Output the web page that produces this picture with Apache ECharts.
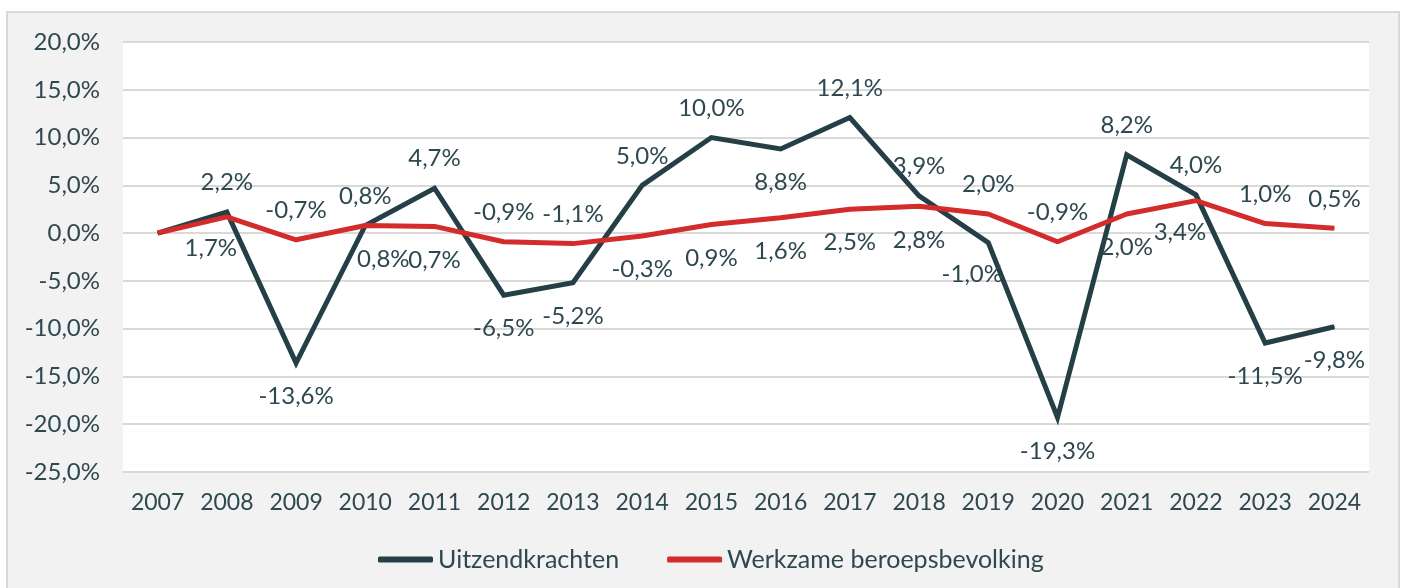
<!DOCTYPE html>
<html>
<head>
<meta charset="utf-8">
<title>Uitzendkrachten vs werkzame beroepsbevolking</title>
<script src="https://cdn.jsdelivr.net/npm/echarts@6/dist/echarts.min.js"></script>
<style>
  html, body { margin: 0; padding: 0; background: #fff; }
  #chart { width: 1402px; height: 588px; }
</style>
</head>
<body>
<div id="chart"></div>
<script>
// jaren en procentuele mutaties
var years = ['2007', '2008', '2009', '2010', '2011', '2012', '2013', '2014', '2015',
  '2016', '2017', '2018', '2019', '2020', '2021', '2022', '2023', '2024']
var uitzendkrachten = [0, 2.2, -13.6, 0.8, 4.7, -6.5, -5.2, 5.0, 10.0, 8.8, 12.1, 3.9, -1.0, -19.3, 8.2, 4.0, -11.5, -9.8]
var werkzame = [0, 1.7, -0.7, 0.8, 0.7, -0.9, -1.1, -0.3, 0.9, 1.6, 2.5, 2.8, 2.0, -0.9, 2.0, 3.4, 1.0, 0.5]
var yTicks = [-25, -20, -15, -10, -5, 0, 5, 10, 15, 20]

// waar het label staat (t = boven, b = onder, bl / br = onder en opzij), '' = geen label
var uitzendLabelPos = ['', 't', 'b', 't', 't', 'b', 'b', 't', 't', 'b', 't', 't', 'bl', 'b', 't', 't', 'b', 'b']
var werkzameLabelPos = ['', 'bl', 't', 'br', 'b', 't', 't', 'b', 'b', 'b', 'b', 'b', 't', 't', 'b', 'bl', 't', 't']

var textColor = '#2e4850'
var fontFamily = 'Lato, "Open Sans", sans-serif'

function fmt (v) {
  return v.toFixed(1).replace('.', ',') + '%'
}

function buildData (values, positions) {
  return values.map(function (v, i) {
    var p = positions[i]
    if (!p) return { value: v, label: { show: false } }
    var top = p.charAt(0) === 't'
    var label = { show: true, position: top ? 'top' : 'bottom', distance: top ? 17 : 21 }
    if (p === 'br') label.offset = [18, 0]
    if (p === 'bl') label.offset = [-16, -2]
    return { value: v, label: label }
  })
}

var chart = echarts.init(document.getElementById('chart'))
chart.setOption({
  backgroundColor: '#fff',
  textStyle: { fontFamily: fontFamily },
  graphic: [{
    type: 'rect',
    z: -10,
    shape: { x: 7, y: 12, width: 1392, height: 600 },
    style: { fill: '#f2f2f2', stroke: '#d9d9d9', lineWidth: 2 }
  }],
  grid: {
    left: 123,
    right: 33,
    top: 42,
    bottom: 116,
    show: true,
    backgroundColor: '#fff',
    borderWidth: 0
  },
  legend: {
    top: 542,
    left: 373,
    itemGap: 48,
    itemWidth: 55,
    itemHeight: 6,
    icon: 'roundRect',
    textStyle: { color: textColor, fontSize: 25, fontFamily: fontFamily },
    data: ['Uitzendkrachten', 'Werkzame beroepsbevolking']
  },
  xAxis: {
    type: 'category',
    data: years,
    boundaryGap: true,
    axisLine: { show: false },
    axisTick: { show: false },
    axisLabel: { color: textColor, fontSize: 23, margin: 19, interval: 0 }
  },
  yAxis: {
    type: 'value',
    min: yTicks[0],
    max: yTicks[yTicks.length - 1],
    interval: 5,
    axisLine: { show: false },
    axisTick: { show: false },
    axisLabel: { color: textColor, fontSize: 24, margin: 23, formatter: fmt },
    splitLine: { lineStyle: { color: '#d9d9d9', width: 2 } }
  },
  series: [{
    name: 'Uitzendkrachten',
    type: 'line',
    symbol: 'circle',
    symbolSize: 1,
    showSymbol: true,
    z: 3,
    lineStyle: { color: '#243f46', width: 5, join: 'miter' },
    itemStyle: { color: '#243f46' },
    label: { color: textColor, fontSize: 24, formatter: function (p) { return fmt(p.value) } },
    data: buildData(uitzendkrachten, uitzendLabelPos)
  }, {
    name: 'Werkzame beroepsbevolking',
    type: 'line',
    symbol: 'circle',
    symbolSize: 1,
    showSymbol: true,
    z: 4,
    lineStyle: { color: '#d42b2b', width: 5 },
    itemStyle: { color: '#d42b2b' },
    label: { color: textColor, fontSize: 24, formatter: function (p) { return fmt(p.value) } },
    data: buildData(werkzame, werkzameLabelPos)
  }]
})
</script>
</body>
</html>
